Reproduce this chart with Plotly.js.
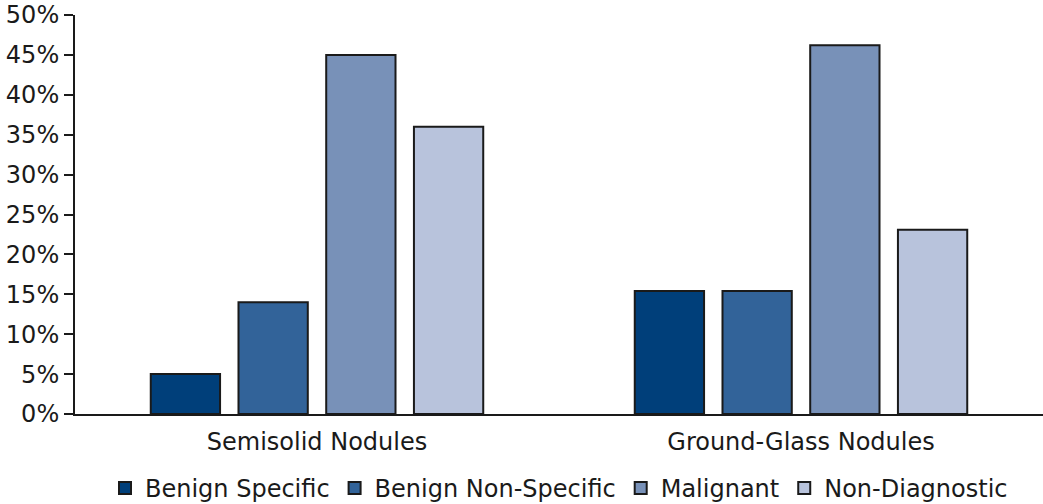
<!DOCTYPE html>
<html>
<head>
<meta charset="utf-8">
<script src="https://cdn.plot.ly/plotly-3.0.1.min.js"></script>
<style>
  html, body { margin: 0; padding: 0; background: #fff; }
  #myChart { width: 1043px; height: 504px; }
</style>
</head>
<body>
<div id="myChart"></div>
<script>
// nodule types on the x axis
var categories = ['Semisolid Nodules', 'Ground-Glass Nodules'];

// percent of nodules per diagnosis
var benign_specific = [5, 15.4];
var benign_non_specific = [14, 15.4];
var malignant = [45, 46.2];
var non_diagnostic = [36, 23.1];

var series_names = ['Benign Specific', 'Benign Non-Specific', 'Malignant', 'Non-Diagnostic'];
var series_colors = ['#003f7a', '#326399', '#7891b8', '#b8c3dc'];

var y_ticks = [0, 5, 10, 15, 20, 25, 30, 35, 40, 45, 50];

function make_bar(values, i) {
    return {
        x: categories,
        y: values,
        name: series_names[i],
        type: 'bar',
        marker: {color: series_colors[i], line: {color: '#1a1a1a', width: 2}},
        hoverinfo: 'skip'
    };
}

var data = [
    make_bar(benign_specific, 0),
    make_bar(benign_non_specific, 1),
    make_bar(malignant, 2),
    make_bar(non_diagnostic, 3)
];

var layout = {
    width: 1043,
    height: 504,
    margin: {l: 75, r: 0, t: 15, b: 90, autoexpand: false},
    paper_bgcolor: '#fff',
    plot_bgcolor: '#fff',
    font: {family: 'DejaVu Sans, sans-serif', size: 24, color: '#1a1a1a'},
    barmode: 'group',
    bargap: 0.275,
    bargroupgap: 0.21,
    showlegend: true,
    legend: {
        orientation: 'h',
        x: 0.5, xanchor: 'center',
        y: -0.13, yanchor: 'top',
        font: {size: 24},
        traceorder: 'normal',
        itemwidth: 30
    },
    xaxis: {
        range: [-0.5, 1.5],
        showline: true, linecolor: '#1a1a1a', linewidth: 2,
        ticks: '', showgrid: false, zeroline: false,
        ticklabelstandoff: 5,
        tickfont: {size: 24}
    },
    yaxis: {
        range: [0, 50],
        tickvals: y_ticks,
        ticktext: y_ticks.map(function (v) { return v + '%'; }),
        showline: true, linecolor: '#1a1a1a', linewidth: 2,
        ticks: 'outside', ticklen: 9, tickwidth: 2, tickcolor: '#1a1a1a',
        showgrid: false, zeroline: false,
        tickfont: {size: 24}
    }
};

Plotly.newPlot('myChart', data, layout, {displayModeBar: false, staticPlot: true});
</script>
</body>
</html>
